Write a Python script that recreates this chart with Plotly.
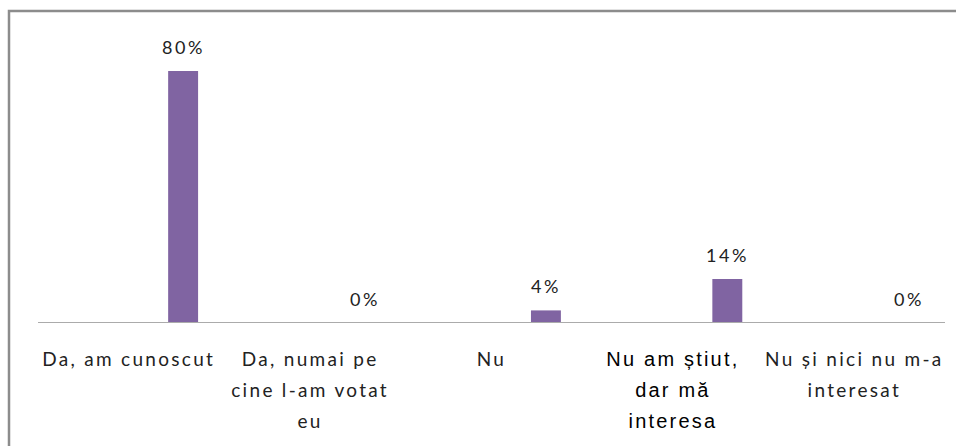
import plotly.graph_objects as go

categories = ["Da, am cunoscut", "Da, numai pe<br>cine l-am votat<br>eu", "Nu",
              "Nu am știut,<br>dar mă<br>interesa",
              "Nu și nici nu m-a<br>interesat"]
values = [80, 0, 4, 14, 0]
labels = ["80%", "0%", "4%", "14%", "0%"]

SP = "font-size:19px; letter-spacing:2.3px"
SP_ANN = "letter-spacing:2.6px"
ARIAL = "font-family:'Liberation Sans', Arial, sans-serif; font-size:20px; letter-spacing:2.2px; color:#000"


def styled(text, style):
    return "<br>".join(f'<span style="{style}">{line}</span>' for line in text.split("<br>"))


ticktext = [styled(c, ARIAL if i == 3 else SP) for i, c in enumerate(categories)]

pos = list(range(len(categories)))
bar_x = [p + 0.3 for p in pos]

fig = go.Figure()
fig.add_trace(go.Bar(x=bar_x, y=values, width=0.165, marker=dict(color="#8064A2", line=dict(width=0)),
                     hoverinfo="skip"))

for bx, v, t in zip(bar_x, values, labels):
    fig.add_annotation(x=bx, y=v, text=styled(t, SP_ANN), showarrow=False, yshift=24,
                       font=dict(family="Lato, 'Open Sans', sans-serif", size=18, color="#222"))

fig.update_layout(
    width=956, height=446,
    margin=dict(l=38, r=11, t=30, b=123),
    paper_bgcolor="white", plot_bgcolor="white",
    showlegend=False,
    font=dict(family="Lato, 'Open Sans', sans-serif", size=19, color="#222"),
    xaxis=dict(range=[-0.5, 4.5], tickmode="array", tickvals=pos, ticktext=ticktext,
               tickfont=dict(size=24),
               showgrid=False, zeroline=False, showline=False, ticks="",
               ticklabelstandoff=18, tickangle=0),
    yaxis=dict(range=[0, 93], visible=False, showgrid=False, zeroline=False),
    shapes=[
        dict(type="line", xref="paper", yref="y", x0=0, x1=1, y0=0, y1=0,
             line=dict(color="#ABABAB", width=2)),
        dict(type="rect", xref="paper", yref="paper", x0=(9 - 38) / 907, x1=1.1,
             y0=-0.6, y1=(323 - 11) / 293, line=dict(color="#8C8C8C", width=2.5)),
    ],
)

fig.write_html("out.html", config={"displayModeBar": False},
               post_script="document.body.style.margin='0';")
